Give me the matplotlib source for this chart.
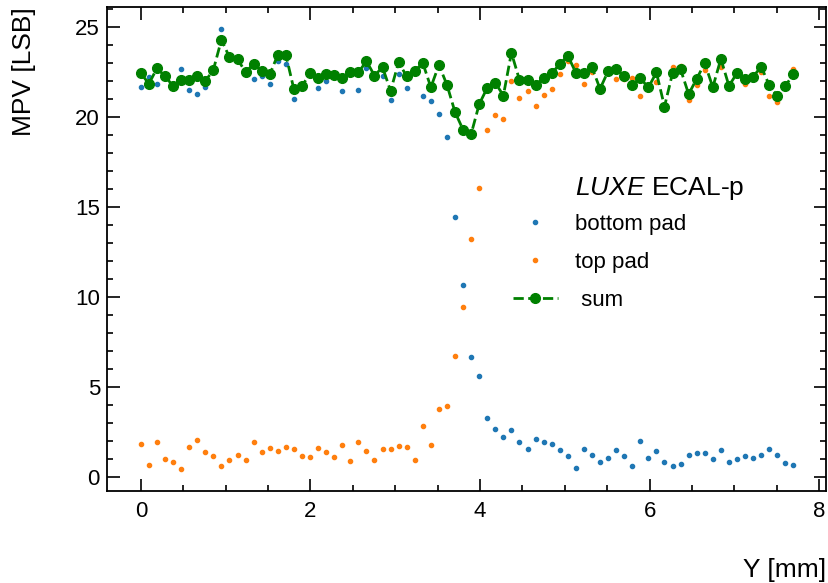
import numpy as np
import matplotlib
matplotlib.use("Agg")
import matplotlib.pyplot as plt
from matplotlib.ticker import MultipleLocator

plt.rcParams["font.family"] = ["Liberation Sans", "DejaVu Sans"]
plt.rcParams["mathtext.fontset"] = "custom"
plt.rcParams["mathtext.rm"] = "Liberation Sans"
plt.rcParams["mathtext.it"] = "Liberation Sans:italic"

# scan positions along Y (mm), 0.095 mm steps
step_mm = 0.095
y_pos = np.round(np.arange(82) * step_mm, 3)

# most probable values (LSB) per scan position
bottom_pad = [
    21.68, 22.24, 21.85, 22.30, 21.80, 22.68, 21.50, 21.26, 21.68, 22.60,
    24.87, 23.30, 23.20, 22.45, 22.11, 22.26, 21.83, 23.13, 22.94, 21.02,
    21.70, 22.40, 21.61, 22.03, 22.30, 21.44, 22.45, 21.52, 22.74, 22.30,
    22.31, 20.94, 22.39, 21.63, 22.55, 21.17, 20.92, 20.17, 18.89, 14.46,
    10.69, 6.68, 5.62, 3.27, 2.70, 2.24, 2.61, 1.96, 1.57, 2.13,
    1.94, 1.83, 1.53, 1.20, 0.53, 1.57, 1.22, 0.88, 1.09, 1.53,
    1.16, 0.63, 2.00, 1.05, 1.48, 0.87, 0.63, 0.72, 1.27, 1.33,
    1.35, 1.03, 1.50, 0.83, 1.02, 1.18, 1.05, 1.27, 1.55, 1.26,
    0.81, 0.70,
]

top_pad = [
    1.85, 0.66, 1.98, 1.02, 0.83, 0.48, 1.66, 2.09, 1.39, 1.20,
    0.63, 0.94, 1.22, 0.94, 1.98, 1.42, 1.64, 1.46, 1.66, 1.55,
    1.18, 1.13, 1.63, 1.40, 1.14, 1.79, 0.92, 1.98, 1.48, 0.96,
    1.55, 1.55, 1.76, 1.70, 0.98, 2.88, 1.77, 3.79, 3.94, 6.75,
    9.47, 13.22, 16.04, 19.30, 20.13, 19.89, 21.98, 21.04, 21.46, 20.61,
    21.22, 21.57, 22.39, 23.14, 22.89, 21.85, 22.52, 21.65, 22.60, 22.11,
    22.11, 22.16, 21.17, 21.70, 21.97, 20.65, 22.78, 22.85, 20.93, 21.76,
    22.64, 21.70, 22.76, 21.80, 22.40, 21.85, 22.20, 22.51, 21.20, 20.85,
    21.70, 22.70,
]

pad_sum = [
    22.44, 21.85, 22.72, 22.26, 21.74, 22.09, 22.09, 22.26, 22.00, 22.63,
    24.29, 23.33, 23.22, 22.50, 22.96, 22.59, 22.37, 23.46, 23.46, 21.54,
    21.72, 22.44, 22.18, 22.37, 22.33, 22.17, 22.50, 22.48, 23.11, 22.31,
    22.77, 21.46, 23.05, 22.26, 22.57, 23.00, 21.66, 22.90, 21.79, 20.28,
    19.30, 19.06, 20.72, 21.63, 21.91, 21.20, 23.57, 22.07, 22.09, 21.79,
    22.18, 22.44, 22.94, 23.42, 22.46, 22.46, 22.77, 21.57, 22.55, 22.65,
    22.29, 21.81, 22.16, 21.65, 22.48, 20.59, 22.44, 22.65, 21.28, 22.13,
    23.00, 21.66, 23.24, 21.74, 22.44, 22.11, 22.24, 22.81, 21.78, 21.18,
    21.72, 22.40,
]

fig = plt.figure(figsize=(8.29, 5.83), dpi=100)
ax = fig.add_axes([0.129, 0.158, 0.8674, 0.8295])

ax.plot(y_pos, bottom_pad, "o", ms=3, color="#1f77b4", label="bottom pad")
ax.plot(y_pos, top_pad, "o", ms=3, color="#ff7f0e", label="top pad")
ax.plot(y_pos, pad_sum, "o--", ms=7, lw=2, color="green", label=" sum")

ax.set_xlim(-0.4, 8.08)
ax.set_ylim(-0.75, 26.1)

ax.xaxis.set_major_locator(MultipleLocator(2))
ax.xaxis.set_minor_locator(MultipleLocator(0.5))
ax.yaxis.set_major_locator(MultipleLocator(5))
ax.yaxis.set_minor_locator(MultipleLocator(1))
ax.tick_params(which="both", direction="in", top=True, right=True,
               width=1.2, labelsize=16)
ax.tick_params(which="major", length=9)
ax.tick_params(which="minor", length=4.5)
ax.tick_params(axis="x", pad=7)
ax.tick_params(axis="y", pad=5)
for sp in ax.spines.values():
    sp.set_linewidth(1.3)

ax.set_xlabel("Y [mm]", fontsize=19, loc="right", labelpad=26)
ax.set_ylabel("MPV [LSB]", fontsize=19, loc="top", labelpad=28)

ax.text(0.651, 0.612, r"$\mathit{LUXE}$ ECAL-p", transform=ax.transAxes,
        fontsize=19, ha="left", va="baseline")
ax.legend(loc="upper left", bbox_to_anchor=(0.565, 0.572), frameon=False,
          fontsize=16, borderpad=0, borderaxespad=0, handletextpad=0.8,
          labelspacing=0.75)

fig.savefig("out.png", dpi=100)
